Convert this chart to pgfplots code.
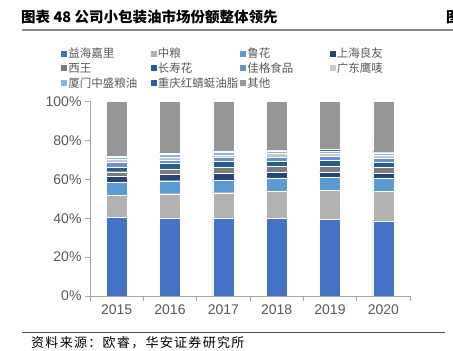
\documentclass[border=0pt]{standalone}
\usepackage{pgfplots}
\pgfplotsset{compat=1.18}
\usepackage{pgfplotstable}
\usepackage{fontspec}
\setmainfont{Liberation Sans}
\newfontfamily\cjk{Noto Sans CJK SC}
\newfontfamily\cjksrc[LetterSpace=10]{Noto Sans CJK SC}
\definecolor{c1}{HTML}{4472C4}
\definecolor{c2}{HTML}{B2B2B2}
\definecolor{c3}{HTML}{5B9BD5}
\definecolor{c4}{HTML}{264478}
\definecolor{c5}{HTML}{7C7C7C}
\definecolor{c6}{HTML}{255E91}
\definecolor{c7}{HTML}{698ED0}
\definecolor{c8}{HTML}{CACACA}
\definecolor{c9}{HTML}{8CB4E0}
\definecolor{c10}{HTML}{335AA1}
\definecolor{c11}{HTML}{979797}
\definecolor{axgray}{HTML}{A6A6A6}
\definecolor{txtgray}{HTML}{595959}
\pgfplotstableread{
x a b c d e f g h i j k
0 40.6 11.0 6.7 3.2 2.4 2.6 2.5 1.3 1.0 0.5 28.2
1 40.2 12.4 6.7 3.1 2.7 3.1 1.9 1.2 1.5 0.8 26.4
2 40.2 12.9 6.5 3.5 2.9 3.1 2.1 1.3 1.5 0.7 25.3
3 39.9 14.1 6.7 3.2 2.8 2.4 2.4 1.7 1.4 0.5 24.9
4 39.4 14.9 6.9 2.7 2.9 2.8 2.1 1.7 1.2 0.8 24.6
5 38.7 15.1 6.9 2.7 2.8 2.4 2.4 1.5 1.2 0.5 25.8
}\datatable
\newcommand{\legent}[1]{\makebox[81.5pt][l]{#1}}
\begin{document}
\begin{tikzpicture}
\useasboundingbox (0pt,0pt) rectangle (453pt,351pt);
\node[anchor=west,inner sep=0,font=\cjk\bfseries\fontsize{14.5}{17}\selectfont] at (21pt,334pt) {图表 48\ 公司小包装油市场份额整体领先};
\node[anchor=west,inner sep=0,font=\cjk\bfseries\fontsize{14.5}{17}\selectfont] at (446pt,334pt) {图};
\draw[black!45,line width=1.6pt] (22pt,321pt) -- (453pt,321pt);
\draw[black!70,line width=0.8pt] (22pt,18.7pt) -- (445pt,18.7pt);
\node[anchor=west,inner sep=0,font=\cjksrc\fontsize{13}{15}\selectfont] at (31pt,8pt) {资料来源：欧睿，华安证券研究所};
\begin{axis}[
  at={(90pt,55pt)}, anchor=south west,
  scale only axis, width=320pt, height=194.5pt,
  ybar stacked, bar width=21pt,
  xmin=-0.5, xmax=5.5, ymin=0, ymax=100,
  enlargelimits=false,
  axis x line*=bottom, axis y line*=left,
  axis line style={-, draw=axgray, line width=0.8pt},
  ytick={0,20,...,100},
  yticklabel={\pgfmathprintnumber{\tick}\%},
  xtick={0,...,5}, xticklabels={2015,2016,2017,2018,2019,2020},
  minor xtick={-0.5,0.5,...,5.5},
  tick align=outside,
  major tick length=5pt, minor tick length=5pt,
  major x tick style={draw=none},
  minor x tick style={draw=axgray, line width=0.8pt},
  y tick style={draw=axgray, line width=0.8pt},
  tick label style={font=\fontsize{14}{16}\selectfont, text=txtgray},
  /pgf/number format/assume math mode=true,
  every axis plot/.append style={draw=white, line width=0.3pt},
  legend image code/.code={\fill[#1,draw=none] (0pt,-3pt) rectangle (6pt,3pt);},
  legend columns=4,
  legend cell align=left,
  legend style={at={(-0.09,1.281)}, anchor=north west, draw=none, fill=none,
    font=\cjk\fontsize{11.5}{13}\selectfont, text=txtgray,
    row sep=1.5pt, column sep=0pt, inner sep=0pt,
    nodes={inner sep=1pt}},
]
\addplot[fill=c1] table[x=x,y=a]{\datatable};
\addlegendentry{\legent{益海嘉里}}
\addplot[fill=c2] table[x=x,y=b]{\datatable};
\addlegendentry{\legent{中粮}}
\addplot[fill=c3] table[x=x,y=c]{\datatable};
\addlegendentry{\legent{鲁花}}
\addplot[fill=c4] table[x=x,y=d]{\datatable};
\addlegendentry{\legent{上海良友}}
\addplot[fill=c5] table[x=x,y=e]{\datatable};
\addlegendentry{\legent{西王}}
\addplot[fill=c6] table[x=x,y=f]{\datatable};
\addlegendentry{\legent{长寿花}}
\addplot[fill=c7] table[x=x,y=g]{\datatable};
\addlegendentry{\legent{佳格食品}}
\addplot[fill=c8] table[x=x,y=h]{\datatable};
\addlegendentry{\legent{广东鹰唛}}
\addplot[fill=c9] table[x=x,y=i]{\datatable};
\addlegendentry{\legent{厦门中盛粮油}}
\addplot[fill=c10] table[x=x,y=j]{\datatable};
\addlegendentry{\legent{重庆红蜻蜓油脂}}
\addplot[fill=c11] table[x=x,y=k]{\datatable};
\addlegendentry{\legent{其他}}
\end{axis}
\end{tikzpicture}
\end{document}
